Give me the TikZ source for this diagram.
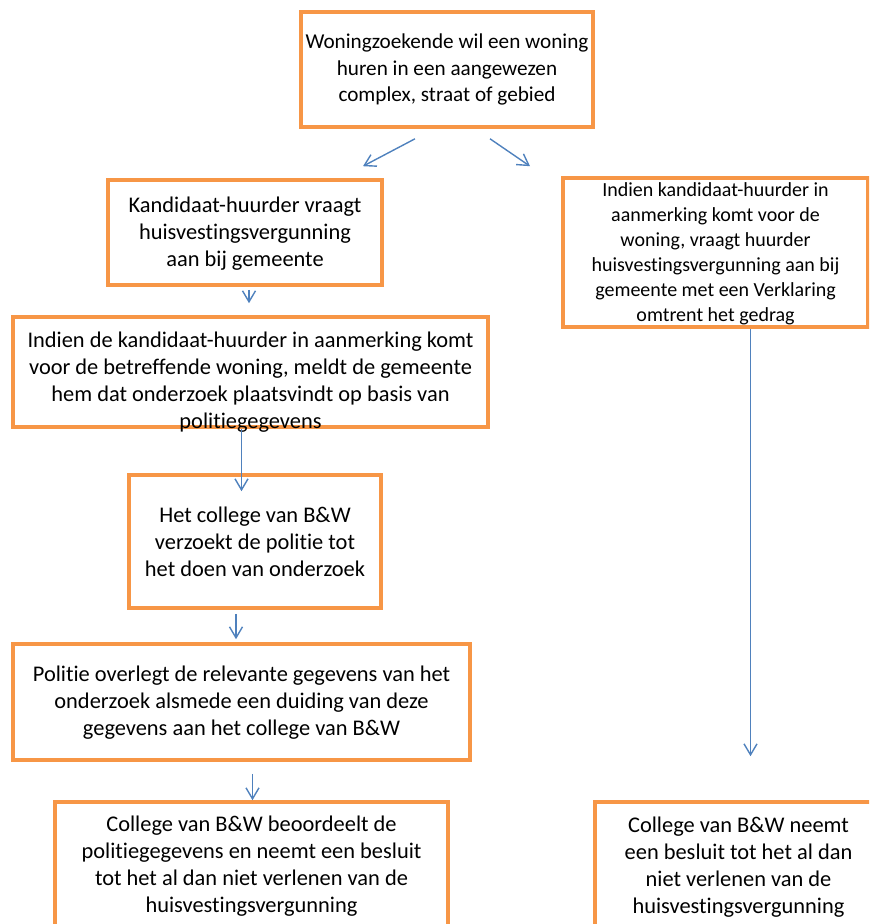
\documentclass[tikz,border=0pt]{standalone}
\usepackage{fontspec}
\setmainfont{Carlito}[Ligatures=NoCommon]
\usetikzlibrary{arrows.meta}
\definecolor{kaderoranje}{HTML}{F79646}
\definecolor{pijlblauw}{HTML}{4F81BD}
% tekst in een vak, #1 = verschuiving naar beneden
\newcommand{\vaktekst}[2]{\raisebox{\dimexpr-#1-.25em\relax}[0pt][0pt]{\begin{tabular}{@{}c@{}}#2\end{tabular}}}
\tikzset{
  stap/.style={draw=kaderoranje, line width=1.8pt, fill=white,
    inner sep=0pt, font=\fontsize{11.2}{13.5}\selectfont},
  pijl/.style={draw=pijlblauw, line width=0.7pt, -{Straight Barb[length=5.5pt,width=6.5pt]}}
}
\begin{document}
\begin{tikzpicture}[x=0.5pt, y=-0.5pt]
    \useasboundingbox (0,0) rectangle (869,924);
    \clip (0,0) rectangle (869,924);
    % vakken
    \node[stap, minimum width=146pt, minimum height=57.5pt, font=\fontsize{10.6}{13.3}\selectfont] (zoek) at (447,69.5) {\vaktekst{0.3pt}{Woningzoekende wil een woning\\huren in een aangewezen\\complex, straat of gebied}};
    \node[stap, minimum width=137pt, minimum height=52.5pt] (aanvraag) at (245,232.5) {\vaktekst{0.5pt}{Kandidaat-huurder vraagt\\huisvestingsvergunning\\aan bij gemeente}};
    \node[stap, minimum width=152.5pt, minimum height=74.5pt, font=\fontsize{10}{12.5}\selectfont] (vog) at (715.5,252.5) {\vaktekst{1pt}{Indien kandidaat-huurder in\\aanmerking komt voor de\\woning, vraagt huurder\\huisvestingsvergunning aan bij\\gemeente met een Verklaring\\omtrent het gedrag}};
    \node[stap, minimum width=237.5pt, minimum height=55pt] (melding) at (250.5,372) {\vaktekst{5pt}{Indien de kandidaat-huurder in aanmerking komt\\voor de betreffende woning, meldt de gemeente\\hem dat onderzoek plaatsvindt op basis van\\politiegegevens}};
    \node[stap, minimum width=126pt, minimum height=66.5pt] (verzoek) at (255,541.5) {\vaktekst{1pt}{Het college van B\&W\\verzoekt de politie tot\\het doen van onderzoek}};
    \node[stap, minimum width=228.5pt, minimum height=58pt] (overleg) at (241.5,702) {\vaktekst{0.3pt}{Politie overlegt de relevante gegevens van het\\onderzoek alsmede een duiding van deze\\gegevens aan het college van B\&W}};
    \node[stap, minimum width=196.5pt, minimum height=64pt] (besluit) at (251.5,866) {\vaktekst{0pt}{College van B\&W beoordeelt de\\politiegegevens en neemt een besluit\\tot het al dan niet verlenen van de\\huisvestingsvergunning}};
    \node[stap, minimum width=143.5pt, minimum height=65pt] (besluitvog) at (738.5,867) {\vaktekst{0pt}{College van B\&W neemt\\een besluit tot het al dan\\niet verlenen van de\\huisvestingsvergunning}};
    % pijlen
    \draw[pijl] ([shift={(-32,10)}]zoek.south) -- ([shift={(118,-12)}]aanvraag.north);
    \draw[pijl] ([shift={(43,10)}]zoek.south) -- ([shift={(-185.5,-10)}]vog.north);
    \draw[pijl, shorten <=1.5pt, shorten >=6pt] ([xshift=2]aanvraag.south) -- ([xshift=2]aanvraag.south |- melding.north);
    \draw[pijl, shorten >=-9pt] ([xshift=-4.5]melding.south) -- ([xshift=-4.5]melding.south |- verzoek.north);
    \draw[pijl, shorten <=2pt, shorten >=1.5pt] ([xshift=-9.5]verzoek.south) -- ([xshift=-9.5]verzoek.south |- overleg.north);
    \draw[pijl, shorten <=6pt] ([xshift=5.5]overleg.south) -- ([xshift=5.5]overleg.south |- besluit.north);
    \draw[pijl, shorten >=22pt] ([xshift=17.5]vog.south) -- ([xshift=17.5]vog.south |- besluitvog.north);
\end{tikzpicture}
\end{document}
